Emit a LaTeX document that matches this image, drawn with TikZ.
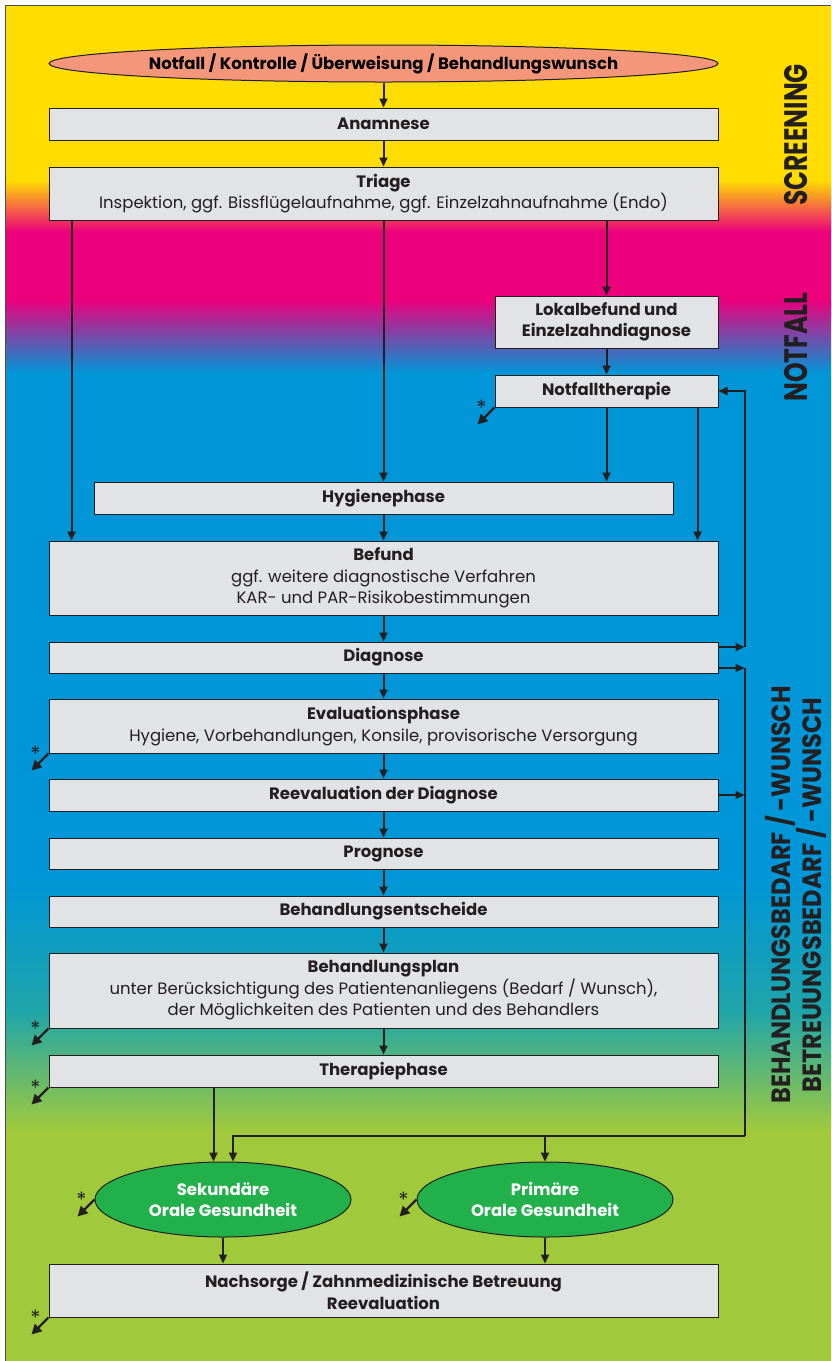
\documentclass[tikz,border=0pt]{standalone}
\usepackage{fontspec}
\setmainfont{Poppins}
\usepackage{graphicx}
\usetikzlibrary{shapes.geometric,arrows.meta,positioning}
\definecolor{bandyellow}{RGB}{255,221,0}
\definecolor{bandmagenta}{RGB}{236,0,124}
\definecolor{bandblue}{RGB}{0,150,215}
\definecolor{bandteal}{RGB}{30,165,170}
\definecolor{bandgreen}{RGB}{160,202,60}
\definecolor{boxgray}{RGB}{226,227,229}
\definecolor{inkdark}{RGB}{35,31,32}
\definecolor{ovalsalmon}{RGB}{244,150,122}
\definecolor{ovalgreen}{RGB}{34,176,75}
\newcommand{\tall}[2][1.3]{\scalebox{1}[#1]{#2}}
\newcommand{\later}[2]{%
  \draw[starrow] (#1) -- ++(-17,17);
  \node[ast] (#2) at ([xshift=-13pt,yshift=8pt]#1) {*};}

\begin{document}
\begin{tikzpicture}[x=1pt, y=-1pt,
box/.style={draw=inkdark, fill=boxgray, line width=1pt, minimum width=669pt,
  align=center, inner sep=2pt, text=inkdark, font=\fontsize{16.5}{21.5}\selectfont},
oval/.style={ellipse, draw=inkdark, line width=1pt, inner sep=0pt, align=center,
  font=\fontsize{16.5}{21.5}\selectfont\bfseries},
side/.style={rotate=90, inner sep=0pt, align=center, text=inkdark,
  font=\fontsize{25}{24}\selectfont\bfseries},
arrow/.style={-{Triangle[length=9pt,width=8pt]}, line width=2pt, draw=inkdark},
starrow/.style={-{Triangle[length=10pt,width=10pt]}, line width=2.4pt, draw=inkdark},
ast/.style={anchor=north, inner sep=0pt, text=inkdark, font=\fontsize{21}{21}\selectfont}
]
\useasboundingbox (0,0) rectangle (831,1361);

% colour bands
\fill[bandyellow] (5,5) rectangle (831,181);
\shade[top color=bandyellow, bottom color=bandmagenta] (5,180) rectangle (831,232);
\fill[bandmagenta] (5,231) rectangle (831,301);
\shade[top color=bandmagenta, bottom color=bandblue] (5,300) rectangle (831,373);
\fill[bandblue] (5,372) rectangle (831,881);
\shade[top color=bandblue, bottom color=bandteal] (5,880) rectangle (831,1011);
\shade[top color=bandteal, bottom color=bandgreen] (5,1010) rectangle (831,1131);
\fill[bandgreen] (5,1130) rectangle (831,1361);
\draw[line width=1pt, black!70] (5,1361) -- (5,5) -- (831,5);

% flow
\node[oval, fill=ovalsalmon, minimum width=669pt, minimum height=37pt] (start) at (383.5,63.5)
  {Notfall / Kontrolle / Überweisung / Behandlungswunsch};
\node[box, minimum height=32pt] (anam) at (383.5,124) {\textbf{Anamnese}};
\node[box, minimum height=53pt] (triage) at (383.5,193.5)
  {\textbf{Triage}\\Inspektion, ggf. Bissflügelaufnahme, ggf. Einzelzahnaufnahme (Endo)};
\node[box, minimum width=223pt, minimum height=52pt] (lokal) at (606.5,322)
  {\textbf{Lokalbefund und}\\\textbf{Einzelzahndiagnose}};
\node[box, minimum width=223pt, minimum height=32pt] (notf) at (606.5,391) {\textbf{Notfalltherapie}};
\node[box, minimum width=579pt, minimum height=32pt] (hyg) at (383.5,498) {\textbf{Hygienephase}};
\node[box, minimum height=74pt] (befund) at (383.5,578)
  {\textbf{Befund}\\ggf. weitere diagnostische Verfahren\\KAR- und PAR-Risikobestimmungen};
\node[box, minimum height=31pt] (diag) at (383.5,657.5) {\textbf{Diagnose}};
\node[box, minimum height=54pt] (eval) at (383.5,726)
  {\textbf{Evaluationsphase}\\Hygiene, Vorbehandlungen, Konsile, provisorische Versorgung};
\node[box, minimum height=32pt] (reeval) at (383.5,795) {\textbf{Reevaluation der Diagnose}};
\node[box, minimum height=31pt] (progn) at (383.5,853.5) {\textbf{Prognose}};
\node[box, minimum height=31pt] (entsch) at (383.5,911.5) {\textbf{Behandlungsentscheide}};
\node[box, minimum height=75pt] (plan) at (383.5,990.5)
  {\textbf{Behandlungsplan}\\unter Berücksichtigung des Patientenanliegens (Bedarf / Wunsch),\\der Möglichkeiten des Patienten und des Behandlers};
\node[box, minimum height=32pt] (ther) at (383.5,1071) {\textbf{Therapiephase}};
\node[oval, fill=ovalgreen, text=white, minimum width=256pt, minimum height=75pt] (sek) at (223,1199.5)
  {Sekundäre\\Orale Gesundheit};
\node[oval, fill=ovalgreen, text=white, minimum width=256pt, minimum height=75pt] (prim) at (545,1199.5)
  {Primäre\\Orale Gesundheit};
\node[box, minimum height=53pt] (nach) at (383.5,1290.5)
  {\textbf{Nachsorge / Zahnmedizinische Betreuung}\\\textbf{Reevaluation}};

% phase labels
\node[side] (screen) at (796,135) {\tall{SCREENING}};
\node[side] (notfall) at (796,347) {\tall{NOTFALL}};
\node[side, font=\fontsize{24}{23}\selectfont\bfseries] (bedarf) at (796,895)
  {\tall[1.1]{BEHANDLUNGSBEDARF / -WUNSCH}\\\tall[1.1]{BETREUUNGSBEDARF / -WUNSCH}};

% connectors
\draw[arrow] (start.south) -- (anam.north);
\draw[arrow] (anam.south) -- (triage.north);
\draw[arrow] ([xshift=23pt]triage.south west) -- ([xshift=23pt]befund.north west);
\draw[arrow] (triage.south) -- (hyg.north);
\draw[arrow] (triage.south -| lokal.north) -- (lokal.north);
\draw[arrow] (lokal.south) -- (notf.north);
\draw[arrow] (notf.south) -- (notf.south |- hyg.north);
\coordinate (nb) at ([xshift=-21pt]notf.south east);
\draw[arrow] (nb) -- (nb |- befund.north);
\draw[arrow] (hyg.south) -- (befund.north);
\draw[arrow] (befund.south) -- (diag.north);
\draw[arrow] (diag.south) -- (eval.north);
\draw[arrow] (eval.south) -- (reeval.north);
\draw[arrow] (reeval.south) -- (progn.north);
\draw[arrow] (progn.south) -- (entsch.north);
\draw[arrow] (entsch.south) -- (plan.north);
\draw[arrow] (plan.south) -- (ther.north);
\coordinate (tx) at ([xshift=-170pt]ther.south);
\draw[arrow] (tx) -- (tx |- sek.north);

% loop back and right-hand bus
\draw[arrow] ([yshift=10.5pt]diag.east) -- ++(26,0) coordinate (up);
\draw[arrow] (up) |- (notf.east);
\draw[arrow] ([yshift=-10.5pt]diag.east) -- ++(26,0) coordinate (dn);
\draw[arrow] (reeval.east) -- (reeval.east -| dn);
\coordinate (bus) at ([yshift=-468pt]dn);
\draw[line width=2pt, inkdark] (dn) -- (bus);
\draw[arrow] (bus) -| ([xshift=10pt]sek.north);
\draw[arrow] (bus -| prim.north) -- (prim.north);
\draw[arrow] (sek.south) -- (sek.south |- nach.north);
\draw[arrow] (prim.south) -- (prim.south |- nach.north);

% exits
\later{notf.south west}{x1}
\later{eval.south west}{x2}
\later{plan.south west}{x3}
\later{ther.south west}{x4}
\later{sek.west}{x5}
\later{prim.west}{x6}
\later{nach.south west}{x7}
\end{tikzpicture}
\end{document}
